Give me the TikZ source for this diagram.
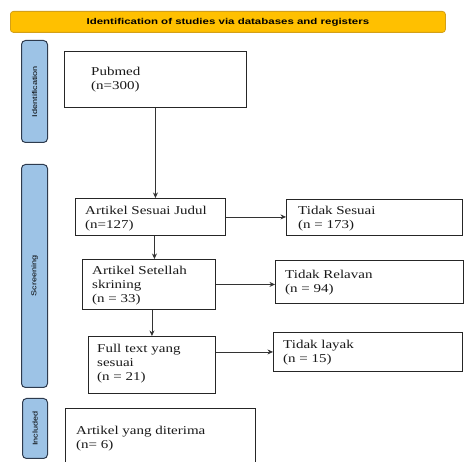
\documentclass[tikz,border=0pt]{standalone}
\usepackage{fontspec}
\newfontfamily\boxfont{Liberation Serif}[FakeStretch=1.25]
\newfontfamily\headfont{Liberation Sans}[FakeStretch=1.35]
\newfontfamily\sidefont{Liberation Sans}[FakeStretch=1.3]
\usetikzlibrary{arrows.meta}
\definecolor{bannerfill}{HTML}{FFC000}
\definecolor{bannerdraw}{HTML}{D4A017}
\definecolor{sideblue}{HTML}{9DC3E6}
\definecolor{sidedraw}{HTML}{2E3B4E}
\begin{document}
\begin{tikzpicture}[x=1pt,y=-1pt,
 box/.style={draw=black!85, line width=0.9pt, rectangle, inner sep=0pt, anchor=north west},
 txt/.style={anchor=north west, inner sep=0pt, align=left, font=\boxfont\fontsize{12}{14}\selectfont, text=black!90},
 side/.style={draw=sidedraw, line width=1pt, fill=sideblue, rounded corners=4pt, rectangle, anchor=north west, inner sep=0pt},
 sidelabel/.style={rotate=90, inner sep=0pt, font=\sidefont\fontsize{7}{8}\selectfont},
 arr/.style={draw=black!80, line width=0.8pt, -{Stealth[length=5.5pt,width=5pt]}}
]
\useasboundingbox (0,0) rectangle (464,462);
\clip (0,0) rectangle (464,462);
\fill[white] (0,0) rectangle (464,462);

% banner
\node[draw=bannerdraw, line width=0.8pt, fill=bannerfill, rounded corners=3pt, anchor=north west,
      minimum width=435pt, minimum height=21pt, inner sep=0pt,
      font=\headfont\bfseries\fontsize{8.5}{10}\selectfont] (banner) at (10,11)
      {Identification of studies via databases and registers};

% side boxes
\node[side, minimum width=26pt, minimum height=102pt] (sid) at (21,40) {};
\node[sidelabel] (sidl) at (sid.center) {Identification};
\node[side, minimum width=26pt, minimum height=223pt] (sscr) at (21,164) {};
\node[sidelabel] (sscrl) at (sscr.center) {Screening};
\node[side, minimum width=25pt, minimum height=60pt] (sinc) at (22,398) {};
\node[sidelabel] (sincl) at (sinc.center) {Included};

% boxes
\node[box, minimum width=182pt, minimum height=56pt] (pub) at (64,51) {};
\node[txt] (pubt) at (91,67) {Pubmed\\(n=300)};

\node[box, minimum width=150pt, minimum height=37pt] (sj) at (75,198) {};
\node[txt] (sjt) at (85,206) {Artikel Sesuai Judul\\(n=127)};

\node[box, minimum width=176pt, minimum height=36pt] (ts) at (286,199) {};
\node[txt] (tst) at (298,206) {Tidak Sesuai\\(n = 173)};

\node[box, minimum width=133pt, minimum height=50pt] (st) at (82,259) {};
\node[txt] (stt) at (92,266) {Artikel Setellah\\skrining\\(n = 33)};

\node[box, minimum width=188pt, minimum height=43pt] (tr) at (275,260) {};
\node[txt] (trt) at (285,270) {Tidak Relavan\\(n = 94)};

\node[box, minimum width=127pt, minimum height=57pt] (ft) at (88,336) {};
\node[txt] (ftt) at (97,344) {Full text yang\\sesuai\\(n = 21)};

\node[box, minimum width=189pt, minimum height=39pt] (tl) at (273,332) {};
\node[txt] (tlt) at (283,340) {Tidak layak\\(n = 15)};

\node[box, minimum width=190pt, minimum height=70pt] (acc) at (65,408) {};
\node[txt] (acct) at (76,426) {Artikel yang diterima\\(n= 6)};

% connectors
\draw[arr] (pub.south) -- (pub.south |- sj.north);
\draw[arr] ([xshift=4pt]sj.south) -- ([xshift=4pt]sj.south |- st.north);
\draw[arr] (ft.north |- st.south) -- (ft.north);
\draw[arr] (sj.east) -- (sj.east -| ts.west);
\draw[arr] (st.east) -- (st.east -| tr.west);
\draw[arr] (tl.west -| ft.east) -- (tl.west);
\end{tikzpicture}
\end{document}
